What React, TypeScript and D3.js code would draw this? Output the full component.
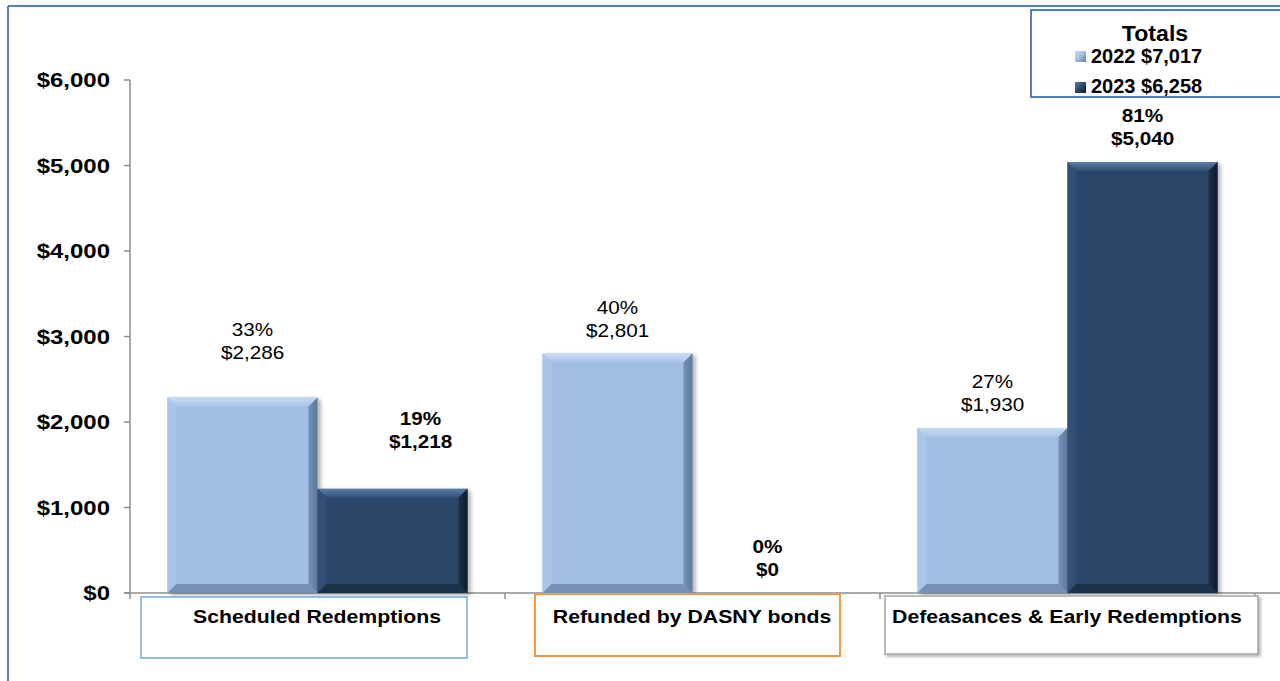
import React from "react";
import * as d3 from "d3";

const categories = ["Scheduled Redemptions", "Refunded by DASNY bonds", "Defeasances & Early Redemptions"];
const seriesNames = ["2022", "2023"];
const values2022 = [2286, 2801, 1930];
const values2023 = [1218, 0, 5040];
const pct2022 = ["33%", "40%", "27%"];
const pct2023 = ["19%", "0%", "81%"];
const totals = ["$7,017", "$6,258"];
const yTicks = [0, 1000, 2000, 3000, 4000, 5000, 6000];

const W = 1280;
const H = 681;
const colors: Record<string, { base: string; light: string; lighter: string; dark: string; darker: string }> = {
  "2022": { base: "#A0BDE3", light: "#AAC5E9", lighter: "#C8DAF2", dark: "#7490B5", darker: "#5F7899" },
  "2023": { base: "#2B4769", light: "#314F75", lighter: "#5A7DA6", dark: "#1C3049", darker: "#0E1A2A" },
};
const boxColors = ["#6FA8DC", "#F79646", "#A6A6A6"];

const fmt = (v: number) => "$" + d3.format(",")(v);

function SText({ x, y, sx = 1, anchor = "middle", size, bold, children }: any) {
  return (
    <text
      transform={`translate(${x},${y}) scale(${sx},1)`}
      textAnchor={anchor}
      fontSize={size}
      fontWeight={bold ? "bold" : "normal"}
      fill="#000"
    >
      {children}
    </text>
  );
}

function Bar({ x, y, w, h, s }: { x: number; y: number; w: number; h: number; s: string }) {
  if (h <= 0) return null;
  const c = colors[s];
  const b = Math.min(9, h / 2, w / 2);
  const x2 = x + w;
  const y2 = y + h;
  const p = (pts: number[][]) => pts.map((q) => q.join(",")).join(" ");
  return (
    <g filter="url(#shadow)">
      <rect x={x} y={y} width={w} height={h} fill={c.base} />
      <polygon points={p([[x, y], [x2, y], [x2 - b, y + b], [x + b, y + b]])} fill={`url(#top${s})`} />
      <polygon points={p([[x, y], [x + b, y + b], [x + b, y2 - b], [x, y2]])} fill={c.light} />
      <polygon points={p([[x2, y], [x2, y2], [x2 - b, y2 - b], [x2 - b, y + b]])} fill={`url(#right${s})`} />
      <polygon points={p([[x, y2], [x + b, y2 - b], [x2 - b, y2 - b], [x2, y2]])} fill={c.dark} />
    </g>
  );
}

export default function App() {
  const y = d3.scaleLinear().domain([0, 6000]).range([593, 80]);
  const x0 = d3.scaleBand<string>().domain(categories).range([130, 1255]).paddingInner(0).paddingOuter(0);
  const x1 = d3.scaleBand<string>().domain(seriesNames).range([0, x0.bandwidth()]).paddingInner(0).paddingOuter(0.25);
  const font = "'Liberation Sans', Arial, sans-serif";

  const labelShift = (ci: number, si: number) =>
    ci === 0 ? (si === 1 ? { dx: 28, dy: -24 } : { dx: 10, dy: -22 }) : { dx: 0, dy: 0 };

  const boxes = [
    { x: 141, y: 597, w: 326, h: 61, tx: 317 },
    { x: 535, y: 594, w: 305, h: 62, tx: 692 },
    { x: 885, y: 596, w: 373, h: 58, tx: 1067 },
  ];

  return (
    <svg width={W} height={H} style={{ position: "absolute", left: 0, top: 0 }} fontFamily={font}>
      <defs>
        <filter id="shadow" x="-10%" y="-10%" width="130%" height="130%">
          <feDropShadow dx="3" dy="2" stdDeviation="2" floodColor="#000" floodOpacity="0.3" />
        </filter>
        <filter id="boxshadow" x="-5%" y="-10%" width="110%" height="130%">
          <feDropShadow dx="2" dy="2" stdDeviation="1.5" floodColor="#000" floodOpacity="0.3" />
        </filter>
        {seriesNames.map((s) => (
          <linearGradient key={"t" + s} id={`top${s}`} x1="0" y1="0" x2="0" y2="1">
            <stop offset="0" stopColor={colors[s].lighter} />
            <stop offset="1" stopColor={colors[s].light} />
          </linearGradient>
        ))}
        {seriesNames.map((s) => (
          <linearGradient key={"r" + s} id={`right${s}`} x1="0" y1="0" x2="1" y2="0">
            <stop offset="0" stopColor={colors[s].dark} />
            <stop offset="1" stopColor={colors[s].darker} />
          </linearGradient>
        ))}
        {seriesNames.map((s) => (
          <linearGradient key={"l" + s} id={`leg${s}`} x1="0" y1="0" x2="1" y2="1">
            <stop offset="0" stopColor={colors[s].lighter} />
            <stop offset="0.5" stopColor={colors[s].base} />
            <stop offset="1" stopColor={colors[s].darker} />
          </linearGradient>
        ))}
      </defs>
      <rect x={0} y={0} width={W} height={H} fill="#fff" />
      {/* outer frame */}
      <line x1={8} y1={6} x2={W} y2={6} stroke="#4F81BD" strokeWidth={2} />
      <line x1={8} y1={6} x2={8} y2={H} stroke="#4F81BD" strokeWidth={2} />

      {/* y axis */}
      <line x1={130} y1={y(6000)} x2={130} y2={y(0)} stroke="#8C8C8C" strokeWidth={1.5} />
      {yTicks.map((t) => (
        <g key={t}>
          <line x1={124} x2={130} y1={y(t)} y2={y(t)} stroke="#8C8C8C" strokeWidth={1.5} />
          <SText x={110} y={y(t) + 7} anchor="end" size={20} sx={1.2} bold>
            {fmt(t)}
          </SText>
        </g>
      ))}
      {/* x axis */}
      <line x1={124} x2={W} y1={y(0)} y2={y(0)} stroke="#8C8C8C" strokeWidth={1.5} />
      {[...categories.map((c) => x0(c)!), 1255].map((v, i) => (
        <line key={i} x1={v} x2={v} y1={y(0)} y2={y(0) + 6} stroke="#8C8C8C" strokeWidth={1.5} />
      ))}

      {/* bars */}
      {categories.map((c, ci) =>
        seriesNames.map((s, si) => {
          const v = si === 0 ? values2022[ci] : values2023[ci];
          const bx = x0(c)! + x1(s)!;
          const bw = x1.bandwidth();
          return <Bar key={c + s} x={bx} y={y(v)} w={bw} h={y(0) - y(v)} s={s} />;
        })
      )}

      {/* labels */}
      {categories.map((c, ci) =>
        seriesNames.map((s, si) => {
          const v = si === 0 ? values2022[ci] : values2023[ci];
          const pct = si === 0 ? pct2022[ci] : pct2023[ci];
          const sh = labelShift(ci, si);
          const cx = x0(c)! + x1(s)! + x1.bandwidth() / 2 + sh.dx;
          const top = y(v) + sh.dy;
          return (
            <g key={c + s + "l"}>
              <SText x={cx} y={top - 40} size={18} sx={1.15} bold={si === 1}>
                {pct}
              </SText>
              <SText x={cx} y={top - 17} size={18} sx={1.15} bold={si === 1}>
                {fmt(v)}
              </SText>
            </g>
          );
        })
      )}

      {/* category boxes */}
      {boxes.map((b, i) => (
        <g key={i}>
          <rect
            x={b.x}
            y={b.y}
            width={b.w}
            height={b.h}
            fill="#fff"
            stroke={boxColors[i]}
            strokeWidth={i === 1 ? 2 : 1.5}
            filter={i === 2 ? "url(#boxshadow)" : undefined}
          />
          <SText x={b.tx} y={623} size={19} sx={1.12} bold>
            {categories[i]}
          </SText>
        </g>
      ))}

      {/* legend */}
      <rect x={1031} y={10} width={260} height={87} fill="#fff" stroke="#4F81BD" strokeWidth={2} />
      <SText x={1155} y={41} size={22} sx={1.05} bold>
        Totals
      </SText>
      {seriesNames.map((s, i) => (
        <g key={s}>
          <rect x={1075} y={i === 0 ? 51 : 82} width={11} height={11} fill={`url(#leg${s})`} />
          <SText x={1091} y={i === 0 ? 63 : 93} anchor="start" size={20} sx={1} bold>
            {s} {totals[i]}
          </SText>
        </g>
      ))}
    </svg>
  );
}
